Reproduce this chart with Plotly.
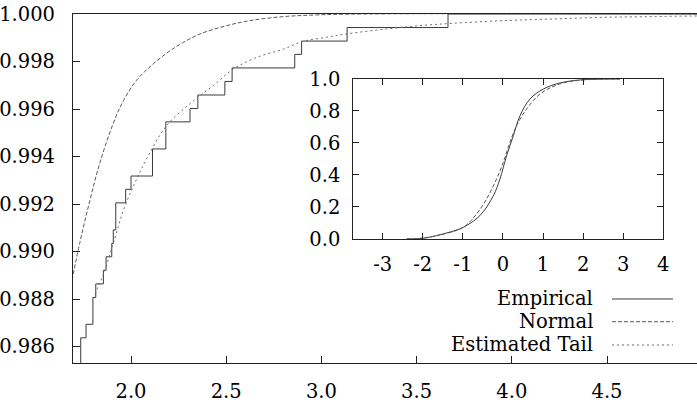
import plotly.graph_objects as go

# ---------------- data ----------------
# main panel: upper tail of the distribution
emp_x = [1.690, 1.736, 1.764, 1.800, 1.815, 1.855, 1.869, 1.899, 1.907, 1.920,
         1.972, 2.000, 2.113, 2.183, 2.310, 2.351, 2.493, 2.531, 2.860, 2.896,
         3.135, 3.665, 5.000]
emp_y = [0.98490, 0.98637, 0.98694, 0.98807, 0.98864, 0.98921, 0.98978, 0.99034,
         0.99091, 0.99205, 0.99262, 0.99318, 0.99432, 0.99546, 0.99602, 0.99659,
         0.99716, 0.99773, 0.99830, 0.99886, 0.99943, 1.00000, 1.00000]

norm_x = [1.690, 1.732, 1.784, 1.837, 1.907, 1.960, 2.030, 2.100, 2.187, 2.274,
          2.362, 2.498, 2.624, 2.800, 2.974, 3.200, 5.000]
norm_y = [0.98880, 0.99040, 0.99215, 0.99375, 0.99540, 0.99635, 0.99722, 0.99778,
          0.99835, 0.99880, 0.99916, 0.99950, 0.99972, 0.99989, 0.99996, 1.00000,
          1.00000]

tail_x = [1.811, 1.855, 1.907, 1.960, 2.021, 2.082, 2.187, 2.327, 2.431, 2.537,
          2.659, 2.800, 2.905, 3.027, 3.131, 3.341, 3.516, 3.691, 3.953, 4.216,
          4.478, 4.740, 5.000]
tail_y = [0.98820, 0.98905, 0.99035, 0.99173, 0.99290, 0.99390, 0.99530, 0.99634,
          0.99698, 0.99768, 0.99817, 0.99852, 0.99885, 0.99902, 0.99916, 0.99937,
          0.99951, 0.99961, 0.99972, 0.99979, 0.99986, 0.99989, 0.99992]

# inset: whole distribution
in_emp_x = [-2.40, -2.00, -1.66, -1.30, -0.99, -0.575, -0.24, -0.075, 0.09, 0.26,
            0.425, 0.675, 1.01, 1.42, 1.92, 2.40, 2.92]
in_emp_y = [0.000, 0.004, 0.021, 0.045, 0.073, 0.146, 0.270, 0.375, 0.520, 0.646,
            0.770, 0.875, 0.9375, 0.975, 0.994, 0.999, 1.000]

in_norm_x = [-2.40, -2.07, -1.58, -0.99, -0.66, -0.41, -0.16, 0.0075, 0.174, 0.34,
             0.59, 0.925, 1.34, 1.76, 2.26, 2.92]
in_norm_y = [0.001, 0.004, 0.025, 0.073, 0.156, 0.250, 0.375, 0.479, 0.604, 0.708,
             0.8125, 0.906, 0.9625, 0.9875, 0.998, 1.000]

main_xticks = [2.0, 2.5, 3.0, 3.5, 4.0, 4.5]
main_yticks = [0.986, 0.988, 0.990, 0.992, 0.994, 0.996, 0.998, 1.000]
inset_xticks = [-3, -2, -1, 0, 1, 2, 3, 4]
inset_xlabels = ["-3", "-2", "-1", "0", "1", "2", "3", "4"]
inset_yticks = [0.0, 0.2, 0.4, 0.6, 0.8, 1.0]
legend_names = ["Empirical", "Normal", "Estimated Tail"]

# ---------------- styles ----------------
FONT = "DejaVu Serif"
FS = 19.5
C_EMP = "#3a3a3a"
C_NORM = "#5a5a5a"
C_TAIL = "#6a6a6a"
DASH_NORM = "4px,2px"
DASH_TAIL = "2px,3px"

fig = go.Figure()
fig.add_trace(go.Scatter(x=emp_x, y=emp_y, mode="lines", line_shape="hv",
                         line=dict(color=C_EMP, width=1)))
fig.add_trace(go.Scatter(x=norm_x, y=norm_y, mode="lines", line_shape="spline",
                         line=dict(color=C_NORM, width=1, dash=DASH_NORM)))
fig.add_trace(go.Scatter(x=tail_x, y=tail_y, mode="lines", line_shape="spline",
                         line=dict(color=C_TAIL, width=1, dash=DASH_TAIL)))
fig.add_trace(go.Scatter(x=in_emp_x, y=in_emp_y, mode="lines", line_shape="spline",
                         line=dict(color=C_EMP, width=1), xaxis="x2", yaxis="y2"))
fig.add_trace(go.Scatter(x=in_norm_x, y=in_norm_y, mode="lines", line_shape="spline",
                         line=dict(color=C_NORM, width=1, dash=DASH_NORM),
                         xaxis="x2", yaxis="y2"))

axis_common = dict(showgrid=False, zeroline=False, showline=True, linecolor="#222",
                   linewidth=1.2, ticks="inside", tickcolor="#222", tickwidth=1.2,
                   automargin=False,
                   tickfont=dict(family=FONT, size=FS, color="black"))

fig.update_layout(
    template="none",
    width=697, height=402,
    margin=dict(l=73, r=0, t=14, b=39, pad=0),
    paper_bgcolor="white", plot_bgcolor="white",
    font=dict(family=FONT, size=FS, color="black"),
    showlegend=False,
    xaxis=dict(range=[1.6954, 4.9727], tickvals=main_xticks,
               ticktext=[f"{v:.1f}" for v in main_xticks], ticklen=7,
               mirror=True, ticklabelstandoff=10, domain=[0, 1], **axis_common),
    yaxis=dict(range=[0.98531, 1.0], tickvals=main_yticks,
               ticktext=[f"{v:.3f}" for v in main_yticks], ticklen=7,
               mirror=False, ticklabelstandoff=13, domain=[0, 1], **axis_common),
    xaxis2=dict(range=[-3.733, 4.0], tickvals=inset_xticks, ticktext=inset_xlabels,
                ticklen=6, mirror="ticks", anchor="y2", ticklabelstandoff=7,
                domain=[0.4492, 0.9460], **axis_common),
    yaxis2=dict(range=[0.0, 1.0], tickvals=inset_yticks,
                ticktext=[f"{v:.1f}" for v in inset_yticks], ticklen=6,
                mirror="ticks", anchor="x2", ticklabelstandoff=8,
                domain=[0.3553, 0.8138], **axis_common),
)

# legend drawn as text on the left of line samples (as in the reference)
leg_y = [0.1834, 0.1183, 0.0516]
leg_dash = ["solid", DASH_NORM, DASH_TAIL]
leg_col = [C_EMP, C_NORM, C_TAIL]
for name, yy, dsh, col in zip(legend_names, leg_y, leg_dash, leg_col):
    fig.add_annotation(x=0.8365, y=yy, xref="paper", yref="paper", text=name,
                       showarrow=False, xanchor="right", yanchor="middle",
                       font=dict(family=FONT, size=FS, color="black"))
    fig.add_shape(type="line", xref="paper", yref="paper", x0=0.8638, x1=0.9615,
                  y0=yy, y1=yy, line=dict(color=col, width=1, dash=dsh))

fig.write_html("out.html", config={"displayModeBar": False},
               post_script="document.body.style.margin='0';document.body.style.padding='0';")
